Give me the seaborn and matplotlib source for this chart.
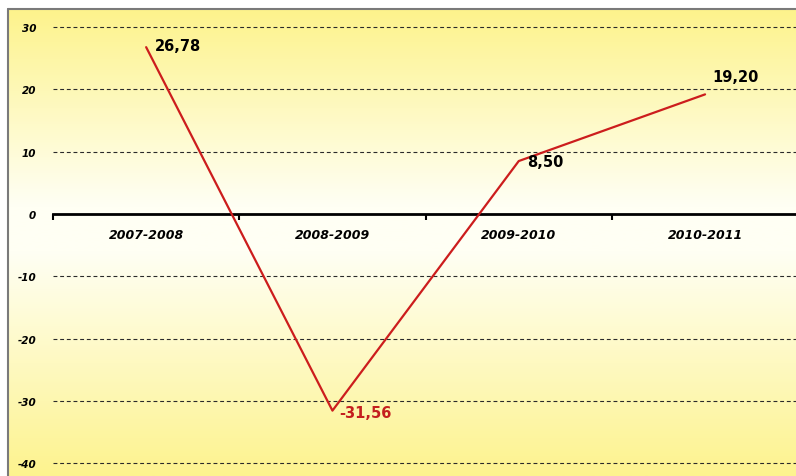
import numpy as np
import pandas as pd
import matplotlib
matplotlib.use("Agg")
import matplotlib.pyplot as plt
from matplotlib.colors import LinearSegmentedColormap
from matplotlib.lines import Line2D
import seaborn as sns

# Data
seasons = ["2007-2008", "2008-2009", "2009-2010", "2010-2011"]
values = [26.78, -31.56, 8.50, 19.20]
value_labels = ["26,78", "-31,56", "8,50", "19,20"]
y_ticks = [-40, -30, -20, -10, 0, 10, 20, 30]

df = pd.DataFrame({"season": seasons, "value": values})

sns.set_style("white")
plt.rcParams["font.family"] = ["DejaVu Sans"]

W, H = 796, 477
fig = plt.figure(figsize=(W / 100, H / 100), dpi=100)
fig.patch.set_facecolor("white")

# Yellow / white vertical gradient behind the plot
bg = fig.add_axes([8 / W, 0, 1 - 8 / W, 1 - 10 / H], zorder=0)
grad_cmap = LinearSegmentedColormap.from_list(
    "bg", [(0.0, "#fdf38c"), (0.42, "#fffff4"), (0.52, "#fffff4"), (1.0, "#fdf38e")]
)
grad = np.linspace(0, 1, 256).reshape(-1, 1)
bg.imshow(grad, aspect="auto", cmap=grad_cmap, extent=[0, 1, 0, 1], origin="upper")
bg.set_axis_off()

# Grey frame (top and left edges)
fig.add_artist(Line2D([8 / W, 1], [1 - 10 / H, 1 - 10 / H], color="#7a7a7a", lw=1.5,
                      transform=fig.transFigure, zorder=5))
fig.add_artist(Line2D([8 / W, 8 / W], [0, 1 - 10 / H], color="#7a7a7a", lw=1.5,
                      transform=fig.transFigure, zorder=5))

# Plot axes
left_px, top_px = 53, 10
ax = fig.add_axes([left_px / W, 0, 1 - left_px / W, 1 - top_px / H], zorder=2)
ax.patch.set_alpha(0)

cat_px = 186.3
px_per_unit = 6.23
zero_y = 215
ax.set_xlim(-0.5, -0.5 + (W - left_px) / cat_px)
ax.set_ylim(-(H - zero_y) / px_per_unit, (zero_y - top_px) / px_per_unit)

sns.lineplot(data=df, x="season", y="value", sort=False, color="#cc1d1d",
             linewidth=1.6, ax=ax, zorder=4)

# Dashed horizontal gridlines
for t in y_ticks:
    if t != 0:
        ax.axhline(t, color="#2a2a2a", lw=0.8, ls=(0, (3.5, 2.5)), zorder=1)

for s in ["top", "right", "left"]:
    ax.spines[s].set_visible(False)
ax.spines["bottom"].set_position(("data", 0))
ax.spines["bottom"].set_linewidth(2)
ax.spines["bottom"].set_color("black")
ax.spines["bottom"].set_zorder(3)

ax.set_xticks(range(len(seasons)))
ax.set_xticklabels(seasons, fontsize=9, fontweight="heavy", fontstyle="italic",
                   color="black")
ax.set_xticks([-0.5, 0.5, 1.5, 2.5], minor=True)
ax.tick_params(axis="x", which="major", bottom=False, length=0, pad=10)
ax.tick_params(axis="x", which="minor", bottom=True, length=4, width=1.5,
               direction="out", color="black")

ax.set_yticks(y_ticks)
ax.set_yticklabels([str(t) for t in y_ticks], fontsize=7.5, fontweight="heavy",
                   fontstyle="italic", color="black")
ax.tick_params(axis="y", left=False, length=0, pad=12)
ax.set_xlabel("")
ax.set_ylabel("")

# Value labels
label_style = [
    ((6, 1), "black"),
    ((5, -1), "#c41f1f"),
    ((6, 0), "black"),
    ((5, 13), "black"),
]
for i, (v, lab) in enumerate(zip(values, value_labels)):
    off, col = label_style[i]
    ax.annotate(lab, (i, v), xytext=off, textcoords="offset points", ha="left",
                va="center", fontsize=10.5, fontweight="bold", color=col, zorder=6)

fig.savefig("out.png", dpi=100)
